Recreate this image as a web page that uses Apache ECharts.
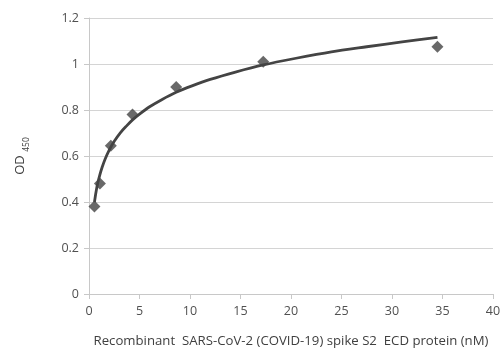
<!DOCTYPE html>
<html><head><meta charset="utf-8">
<script src="https://cdn.jsdelivr.net/npm/echarts@6/dist/echarts.min.js"></script>
<style>html,body{margin:0;padding:0;background:#fff}#c{width:504px;height:349px}</style>
</head><body><div id="c"></div>
<script>
const concX = [0.54, 1.08, 2.16, 4.31, 8.63, 17.25, 34.5];
const odY = [0.38, 0.48, 0.645, 0.78, 0.90, 1.01, 1.075];
const curveX = [0.54, 0.7, 0.85, 1.08, 1.3, 1.6, 2.0, 2.5, 3.1, 3.7, 4.31, 5.0, 6.0, 7.2, 8.63, 10.2, 12.0, 14.5, 17.25, 20.5, 24.0, 27.5, 31.0, 34.5];
const curveY = [0.400, 0.445, 0.479, 0.519, 0.551, 0.587, 0.626, 0.664, 0.701, 0.730, 0.757, 0.782, 0.814, 0.845, 0.877, 0.905, 0.933, 0.965, 0.996, 1.025, 1.053, 1.075, 1.096, 1.116];
const xTicks = [0, 5, 10, 15, 20, 25, 30, 35, 40];
const yTicks = [0, 0.2, 0.4, 0.6, 0.8, 1, 1.2];

const font = 'Open Sans';
const chart = echarts.init(document.getElementById('c'), null, {renderer: 'canvas'});
chart.setOption({
  animation: false,
  backgroundColor: '#fff',
  grid: {left: 89, right: 11, top: 18, bottom: 55, containLabel: false, outerBoundsMode: 'none'},
  xAxis: {
    type: 'value', min: xTicks[0], max: xTicks[xTicks.length - 1], interval: 5,
    name: 'Recombinant  SARS-CoV-2 (COVID-19) spike S2  ECD protein (nM)',
    nameLocation: 'middle', nameGap: 41,
    nameTextStyle: {color: '#404040', fontSize: 13.2, fontFamily: font},
    axisLine: {show: true, lineStyle: {color: '#c8c8c8', width: 1}},
    axisTick: {show: true, inside: false, length: 5, lineStyle: {color: '#c8c8c8'}},
    splitLine: {show: false},
    axisLabel: {color: '#505050', fontSize: 12.5, fontFamily: font, margin: 11}
  },
  yAxis: {
    type: 'value', min: 0, max: 1.2, interval: 0.2,
    name: 'OD {sub|450}',
    nameLocation: 'middle', nameGap: 62, nameRotate: 90,
    nameTextStyle: {color: '#404040', fontSize: 13, fontFamily: font,
      rich: {sub: {fontSize: 8.5, color: '#404040', fontFamily: font, verticalAlign: 'bottom', padding: [0, 0, -4, 0]}}},
    axisLine: {show: true, lineStyle: {color: '#c8c8c8', width: 1}},
    axisTick: {show: true, inside: false, length: 5, lineStyle: {color: '#c8c8c8'}},
    splitLine: {show: true, lineStyle: {color: '#d4d4d4', width: 1}},
    axisLabel: {color: '#505050', fontSize: 12.5, fontFamily: font, margin: 10,
      formatter: v => String(Math.round(v * 10) / 10)}
  },
  series: [
    {
      type: 'line', smooth: 0.3, showSymbol: false, z: 2,
      data: curveX.map((x, i) => [x, curveY[i]]),
      lineStyle: {color: '#444444', width: 2.8}
    },
    {
      type: 'scatter', symbol: 'diamond', symbolSize: 12, z: 3,
      data: concX.map((x, i) => [x, odY[i]]),
      itemStyle: {color: '#444444'}
    }
  ]
});
</script></body></html>
